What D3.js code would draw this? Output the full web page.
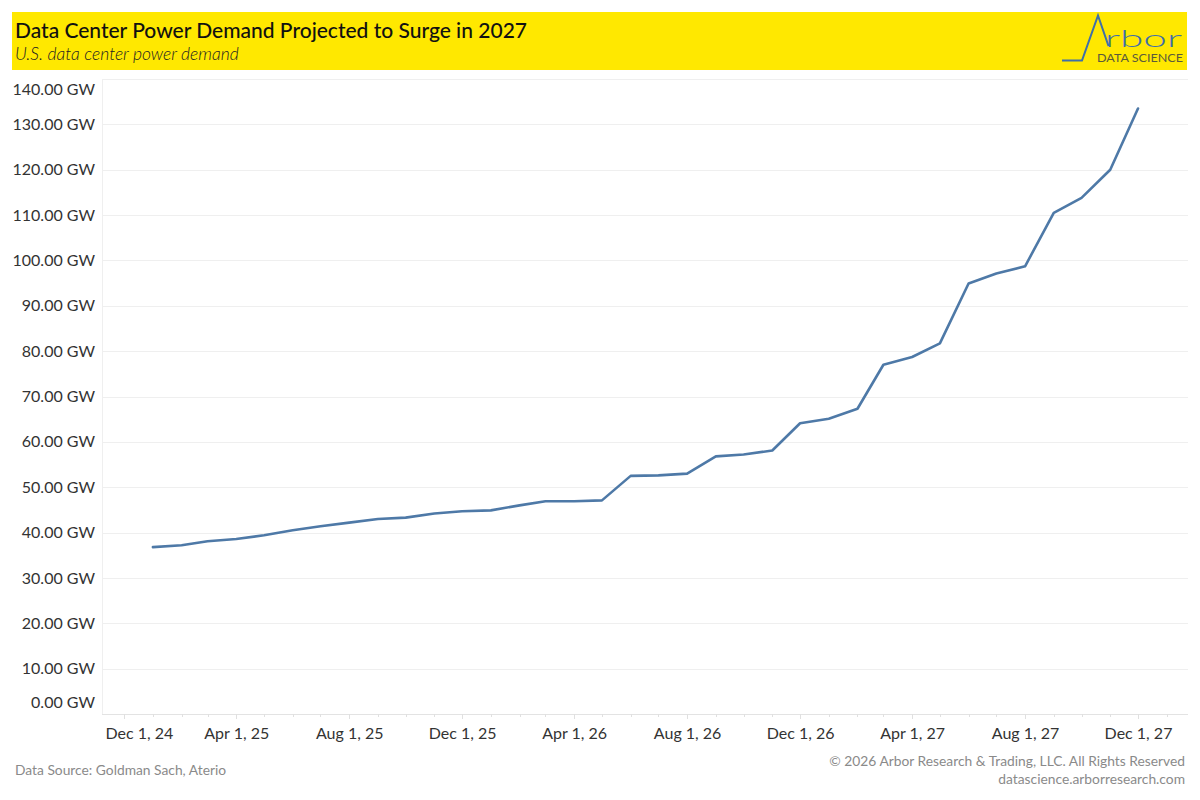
<!DOCTYPE html>
<html>
<head>
<meta charset="utf-8">
<script src="https://cdn.jsdelivr.net/npm/d3@7"></script>
<style>
  html, body { margin: 0; padding: 0; background: #ffffff; }
  svg { display: block; }
  text { font-family: "Lato", "Noto Sans", sans-serif; }
</style>
</head>
<body>
<svg id="chart" width="1200" height="800"></svg>
<script>
// ---------- data ----------
const months = [
  "2025-01-01","2025-02-01","2025-03-01","2025-04-01","2025-05-01","2025-06-01",
  "2025-07-01","2025-08-01","2025-09-01","2025-10-01","2025-11-01","2025-12-01",
  "2026-01-01","2026-02-01","2026-03-01","2026-04-01","2026-05-01","2026-06-01",
  "2026-07-01","2026-08-01","2026-09-01","2026-10-01","2026-11-01","2026-12-01",
  "2027-01-01","2027-02-01","2027-03-01","2027-04-01","2027-05-01","2027-06-01",
  "2027-07-01","2027-08-01","2027-09-01","2027-10-01","2027-11-01","2027-12-01"
];
const demandGW = [
  36.8, 37.2, 38.1, 38.6, 39.4, 40.5,
  41.4, 42.2, 43.0, 43.3, 44.2, 44.7,
  44.9, 46.0, 46.9, 46.9, 47.1, 52.5,
  52.6, 53.0, 56.8, 57.2, 58.1, 64.1,
  65.1, 67.3, 77.0, 78.7, 81.7, 94.9,
  97.1, 98.7, 110.5, 113.8, 120.0, 133.5
];
const yTicks = [0, 10, 20, 30, 40, 50, 60, 70, 80, 90, 100, 110, 120, 130, 140];
const xTickLabels = ["Dec 1, 24","Apr 1, 25","Aug 1, 25","Dec 1, 25","Apr 1, 26","Aug 1, 26","Dec 1, 26","Apr 1, 27","Aug 1, 27","Dec 1, 27"];
const xMajorDates = ["2024-12-01","2025-04-01","2025-08-01","2025-12-01","2026-04-01","2026-08-01","2026-12-01","2027-04-01","2027-08-01","2027-12-01"];
const xDomain = ["2024-11-07","2028-01-24"];
const yDomain = [0, 140];

const title = "Data Center Power Demand Projected to Surge in 2027";
const subtitle = "U.S. data center power demand";
const sourceText = "Data Source: Goldman Sach, Aterio";
const copyrightText = "© 2026 Arbor Research & Trading, LLC. All Rights Reserved";
const siteText = "datascience.arborresearch.com";

// ---------- layout ----------
const parse = d3.utcParse("%Y-%m-%d");
const data = months.map((m, i) => ({ date: parse(m), value: demandGW[i] }));

const plot = { left: 102, right: 1188, top: 79, bottom: 714 };
const svg = d3.select("#chart");

const x = d3.scaleUtc().domain(xDomain.map(parse)).range([plot.left, plot.right]);
const y = d3.scaleLinear().domain(yDomain).range([plot.bottom, plot.top]);

// header banner
svg.append("rect").attr("x", 12).attr("y", 12).attr("width", 1175).attr("height", 58).attr("fill", "#FFE800");
svg.append("text").attr("x", 15).attr("y", 37.5).attr("font-size", 21).attr("font-weight", 500)
  .attr("fill", "#111").text(title);
svg.append("text").attr("x", 15).attr("y", 60).attr("font-size", 17.5).attr("font-style", "italic")
  .attr("font-weight", 300).attr("fill", "#222").text(subtitle);

// logo
const logoBlue = "#3F6FA8";
svg.append("path")
  .attr("d", "M1062,60.5 L1082,60.5 L1098,15.5 L1108.5,46")
  .attr("fill", "none").attr("stroke", logoBlue).attr("stroke-width", 2);
svg.append("text").attr("x", 1105).attr("y", 46.5).attr("font-size", 24).attr("font-weight", 300)
  .attr("fill", logoBlue).attr("textLength", 77).attr("lengthAdjust", "spacingAndGlyphs").text("rbor");
svg.append("text").attr("x", 1097).attr("y", 61.5).attr("font-size", 11.5)
  .attr("fill", "#5b5a3c").attr("textLength", 86).attr("lengthAdjust", "spacingAndGlyphs").text("DATA SCIENCE");

// gridlines
const grid = svg.append("g");
grid.selectAll("line").data(yTicks).join("line")
  .attr("x1", plot.left).attr("x2", plot.right)
  .attr("y1", d => Math.round(y(d)) + 0.5).attr("y2", d => Math.round(y(d)) + 0.5)
  .attr("stroke", d => d === 0 ? "#e3e3e3" : "#efefef").attr("stroke-width", 1);
// left border
svg.append("line").attr("x1", plot.left + 0.5).attr("x2", plot.left + 0.5)
  .attr("y1", plot.top).attr("y2", plot.bottom)
  .attr("stroke", "#efefef");

// y axis labels
const yAxis = d3.axisLeft(y).tickValues(yTicks).tickSize(0).tickPadding(6)
  .tickFormat(d => d3.format(".2f")(d) + " GW");
const yG = svg.append("g").attr("transform", `translate(${plot.left - 1},0)`).call(yAxis);
yG.select(".domain").remove();
yG.selectAll("text").attr("font-size", 16).attr("fill", "#333")
  .attr("font-family", "Lato, 'Noto Sans', sans-serif")
  .attr("dy", d => d === yDomain[1] ? "0.95em" : d === yDomain[0] ? "-0.38em" : "0.32em");

// x axis: monthly minor ticks, major every 4 months
const minorTicks = d3.utcMonth.range(parse("2024-12-01"), parse("2028-01-25"));
const xg = svg.append("g");
xg.selectAll("line").data(minorTicks).join("line")
  .attr("x1", d => Math.round(x(d)) + 0.5).attr("x2", d => Math.round(x(d)) + 0.5)
  .attr("y1", plot.bottom).attr("y2", d => plot.bottom + ((d.getUTCMonth() % 4 === 3) ? 5 : 3))
  .attr("stroke", "#e0e0e0");

const xAxis = d3.axisBottom(x).tickValues(xMajorDates.map(parse)).tickSize(0).tickPadding(14)
  .tickFormat((d, i) => xTickLabels[i]);
const xG = svg.append("g").attr("transform", `translate(0,${plot.bottom})`).call(xAxis);
xG.select(".domain").remove();
xG.selectAll("text").attr("font-size", 16).attr("fill", "#333")
  .attr("font-family", "Lato, 'Noto Sans', sans-serif")
  .each(function(d) {
    const w = this.getComputedTextLength();
    const cx = x(d);
    if (cx - w / 2 < plot.left + 3) {
      d3.select(this).attr("dx", (plot.left + 3) - (cx - w / 2));
    }
  });

// line
const line = d3.line().x(d => x(d.date)).y(d => y(d.value));
svg.append("path").datum(data)
  .attr("fill", "none").attr("stroke", "#4E79A7").attr("stroke-width", 2.6)
  .attr("stroke-linejoin", "round").attr("stroke-linecap", "round")
  .attr("d", line);

// footer
svg.append("text").attr("x", 15).attr("y", 775).attr("font-size", 13.8).attr("fill", "#8a8a8a").text(sourceText);
svg.append("text").attr("x", 1185).attr("y", 766).attr("font-size", 13.8).attr("fill", "#8a8a8a")
  .attr("text-anchor", "end").text(copyrightText);
svg.append("text").attr("x", 1185).attr("y", 784).attr("font-size", 13.8).attr("fill", "#8a8a8a")
  .attr("text-anchor", "end").text(siteText);
</script>
</body>
</html>
